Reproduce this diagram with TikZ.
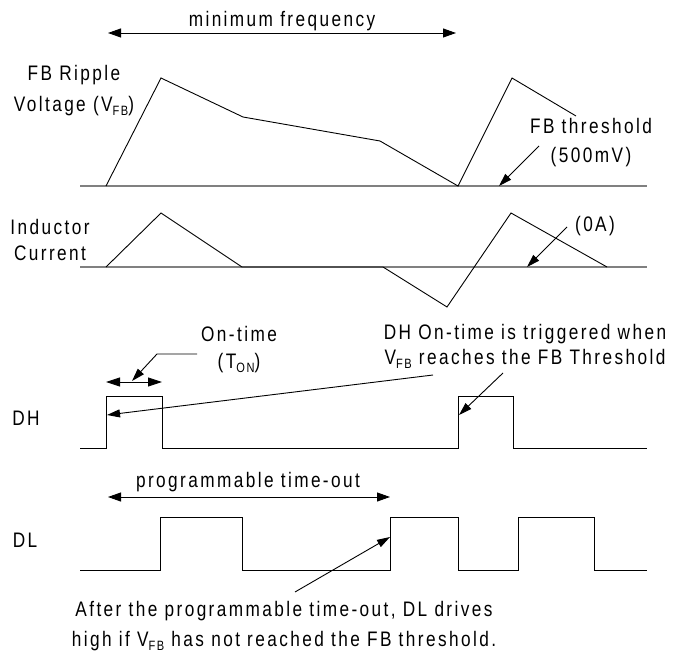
\documentclass[tikz,border=0pt]{standalone}
\usepackage{fontspec}
\setmainfont{Liberation Sans}[FakeStretch=0.82,LetterSpace=11.5]
\usepackage{tikz}
\usetikzlibrary{arrows.meta, positioning}
\newcommand{\subtxt}[1]{\raisebox{-0.35ex}{\fontsize{13.5}{13.5}\selectfont #1}}
\tikzstyle{lbl} = [align=center, inner sep=0pt, font=\fontsize{21}{29}\selectfont]
\tikzstyle{wave} = [line width=0.9pt, black]
\tikzstyle{axis} = [line width=1.4pt, gray]
\tikzstyle{arrow} = [line width=0.9pt, -{Triangle[length=13pt,width=8pt]}]
\tikzstyle{span} = [line width=0.9pt, {Triangle[length=13pt,width=9pt]}-{Triangle[length=13pt,width=9pt]}]

\begin{document}
\begin{tikzpicture}[x=1pt, y=-1pt]
  \useasboundingbox (0,0) rectangle (675,652);

  % labels
  \node[lbl] (minfreq) at (282,21) {minimum frequency};
  \node[lbl, font=\fontsize{21}{31}\selectfont] (vfb) at (74,91) {FB Ripple\\Voltage (V\subtxt{FB})};
  \node[lbl] (thr) at (591,143) {FB threshold\\(500mV)};
  \node[lbl, font=\fontsize{21}{26}\selectfont] (il) at (50,240) {Inductor\\Current};
  \node[lbl] (zero) at (595,226) {(0A)};
  \node[lbl, font=\fontsize{21}{27}\selectfont] (ton) at (239,350) {On-time\\(T\subtxt{ON})};
  \node[lbl, font=\fontsize{21}{25}\selectfont] (trig) at (525,346) {DH On-time is triggered when\\V\subtxt{FB} reaches the FB Threshold};
  \node[lbl] (dh) at (26,418) {DH};
  \node[lbl] (timeout) at (248,482) {programmable time-out};
  \node[lbl] (dl) at (25,540) {DL};
  \node[lbl, font=\fontsize{21}{30}\selectfont] (after) at (284,626) {After the programmable time-out, DL drives\\high if V\subtxt{FB} has not reached the FB threshold.};

  % arrow ends
  \coordinate (mf_l) at (108,33);
  \coordinate (mf_r) at (456,33);
  \coordinate (thr_tail) at (539,146);
  \coordinate (thr_tip) at (499,186);
  \coordinate (zero_tail) at (567,227);
  \coordinate (zero_tip) at (527,267);
  \coordinate (ton_a) at (197,354);
  \coordinate (ton_b) at (157,354);
  \coordinate (ton_tip) at (132,381);
  \coordinate (ton_l) at (106,382);
  \coordinate (ton_r) at (162,382);
  \coordinate (trig_a) at (433,375);
  \coordinate (trig_tip1) at (107,415);
  \coordinate (trig_b) at (503,373);
  \coordinate (trig_tip2) at (459,415);
  \coordinate (to_l) at (108,497);
  \coordinate (to_r) at (390,497);
  \coordinate (after_tail) at (295,592);
  \coordinate (after_tip) at (390,537);

  % FB ripple voltage
  \draw[axis] (80,186) -- (647,186);
  \draw[wave] (106,186) -- (161,78) -- (243,117) -- (380,141) -- (458,186) -- (512,78) -- (576,116);
  % inductor current
  \draw[axis] (80,267) -- (647,267);
  \draw[wave] (106,267) -- (161,213) -- (242,267) -- (383,267) -- (447,307) -- (511,213) -- (607,267);
  % DH
  \draw[wave] (80,448) -| (106,396) -| (162,448) -| (458,396) -| (513,448) -- (647,448);
  % DL
  \draw[wave] (80,570) -| (160,517) -| (242,570) -| (390,517) -| (458,570) -| (518,517) -| (594,570) -- (647,570);

  \draw[span] (mf_l) -- (mf_r);
  \draw[arrow] (thr_tail) -- (thr_tip);
  \draw[arrow] (zero_tail) -- (zero_tip);
  \draw[arrow] (ton_a) -- (ton_b) -- (ton_tip);
  \draw[line width=0.9pt, {Triangle[length=14pt,width=9pt]}-{Triangle[length=14pt,width=9pt]}] (ton_l) -- (ton_r);
  \draw[arrow] (trig_a) -- (trig_tip1);
  \draw[arrow] (trig_b) -- (trig_tip2);
  \draw[span] (to_l) -- (to_r);
  \draw[arrow] (after_tail) -- (after_tip);
\end{tikzpicture}
\end{document}
